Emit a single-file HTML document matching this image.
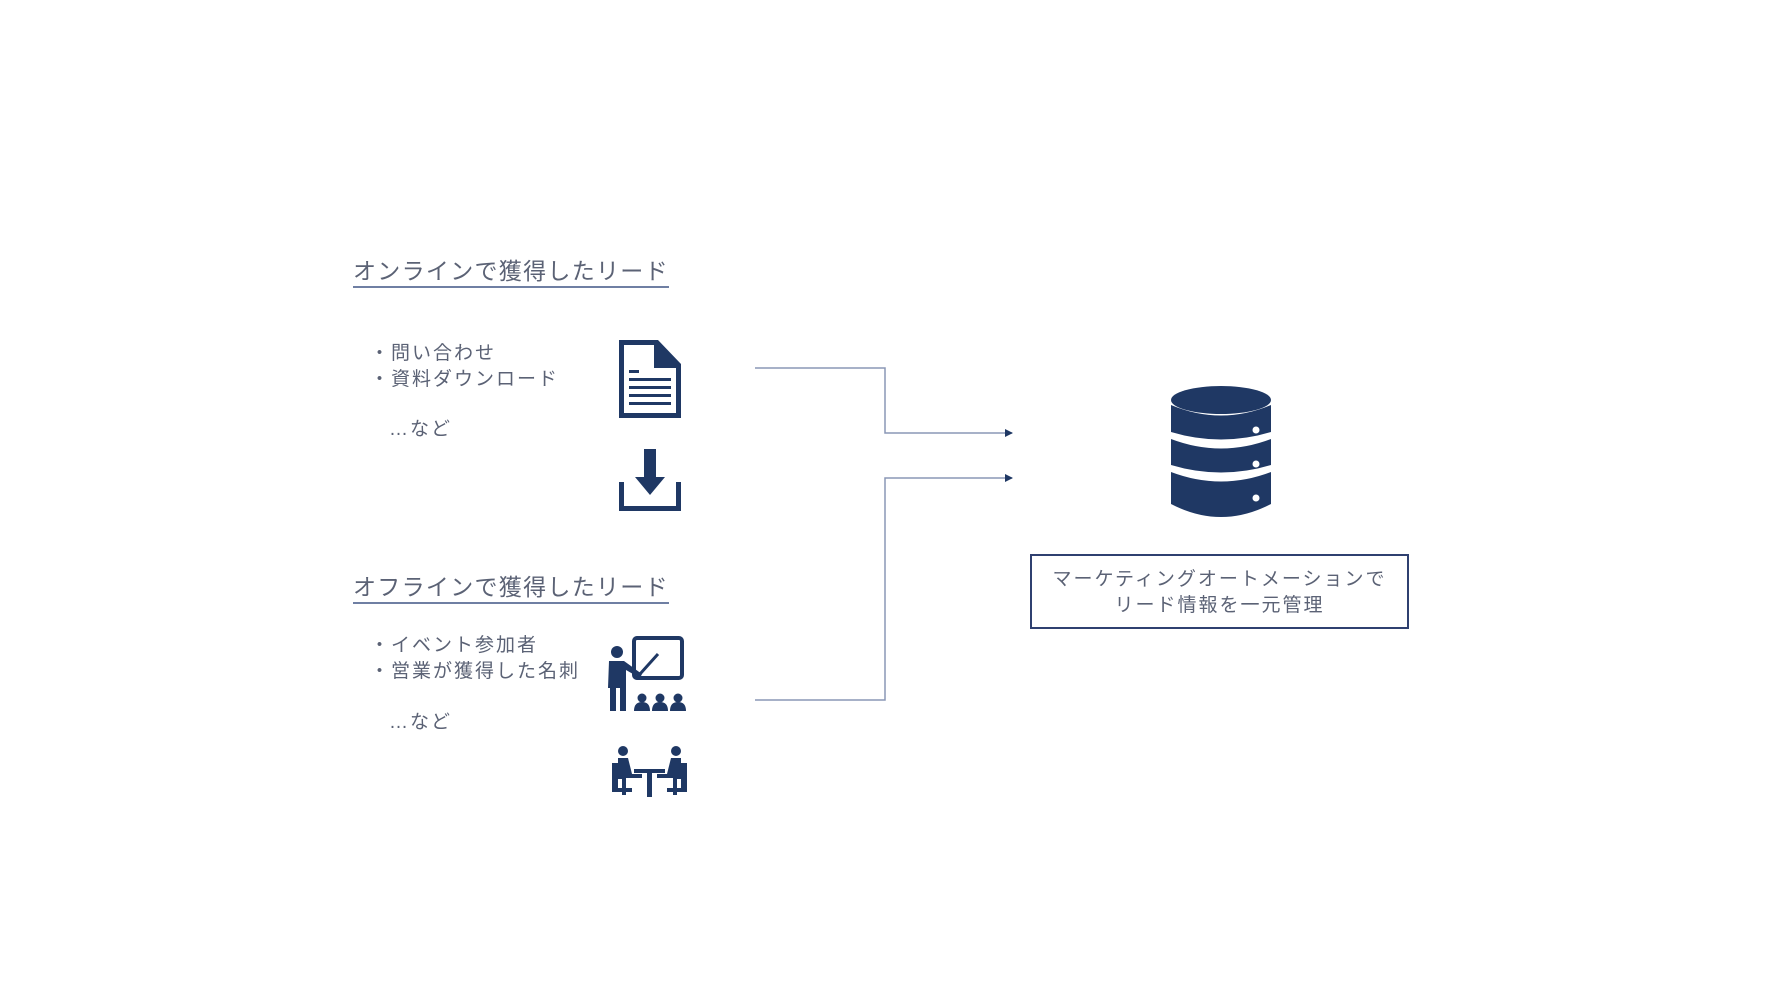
<!DOCTYPE html>
<html><head><meta charset="utf-8"><style>
body{margin:0;width:1780px;height:996px;background:#fff;position:relative;overflow:hidden;font-family:"Liberation Sans","Noto Sans CJK JP",sans-serif;color:#5b6275}
#w{position:absolute;left:-4px;top:-2px;width:1780px;height:996px}
.t{position:absolute;white-space:nowrap}
.h{font-size:23px;letter-spacing:1.3px;border-bottom:2px solid #6f7fa3;line-height:30px}
.b{font-size:19px;letter-spacing:2px;line-height:26px}
</style></head><body><div id="w">
<div class="t h" style="left:357px;top:258px">オンラインで獲得したリード</div>
<div class="t b" style="left:374px;top:343px">・問い合わせ<br>・資料ダウンロード</div>
<div class="t b" style="left:393px;top:419px">…など</div>
<div class="t h" style="left:357px;top:574px">オフラインで獲得したリード</div>
<div class="t b" style="left:374px;top:635px">・イベント参加者<br>・営業が獲得した名刺</div>
<div class="t b" style="left:393px;top:712px">…など</div>
<div class="t" style="left:1034px;top:556px;width:379px;height:75px;border:2px solid #2f4070;text-align:center;font-size:19px;letter-spacing:2px;line-height:26px;padding-top:11px;box-sizing:border-box">マーケティングオートメーションで<br>リード情報を一元管理</div>
<svg width="1780" height="996" style="position:absolute;left:0;top:0">
<defs><marker id="a" markerWidth="8" markerHeight="8" refX="7" refY="4" orient="auto" markerUnits="userSpaceOnUse"><path d="M0,0L8,4L0,8z" fill="#1f3864"/></marker></defs>
<g fill="none" stroke="#8a97b5" stroke-width="1.5">
<path d="M759 370H889V435H1016" marker-end="url(#a)"/>
<path d="M759 702H889V480H1016" marker-end="url(#a)"/>
</g>
<g fill="#1f3864">
<path d="M623 342H662L685 366V420H623Z M628 347V415H680V370H658V347Z" fill-rule="evenodd"/>
<path d="M663 350L677 364H663Z"/>
<rect x="633" y="372" width="10" height="3"/><rect x="633" y="380" width="42" height="3"/><rect x="633" y="388" width="42" height="3"/><rect x="633" y="396" width="42" height="3"/><rect x="633" y="404" width="42" height="3"/>
<rect x="648" y="451" width="12" height="30"/><path d="M639 479H669L654 497Z"/>
<path d="M623 484H628V508H680V484H685V513H623Z"/>
<rect x="638" y="640" width="48" height="40" rx="3" fill="none" stroke="#1f3864" stroke-width="4"/>
<circle cx="621" cy="654" r="6"/>
<path d="M613 663H628L646 676L644 680L630 672V713H624V690H620V713H614V690H612Z"/>
<path d="M644 676L662 656" stroke="#1f3864" stroke-width="3"/>
<circle cx="646" cy="700" r="4.5"/><circle cx="664" cy="700" r="4.5"/><circle cx="682" cy="700" r="4.5"/>
<path d="M638 713Q638 704 646 704Q654 704 654 713Z M656 713Q656 704 664 704Q672 704 672 713Z M674 713Q674 704 682 704Q690 704 690 713Z"/>
<circle cx="627" cy="753" r="5"/><circle cx="680" cy="753" r="5"/>
<path d="M616 765H622V790H616Z M622 760H632L636 776H646V780H630V797H626V781H622Z"/>
<path d="M685 765H691V790H685Z M685 760H675L671 776H661V780H677V797H681V781H685Z"/>
<rect x="638" y="771" width="31" height="4"/><rect x="651" y="775" width="5" height="24"/>
<rect x="616" y="790" width="20" height="4"/><rect x="671" y="790" width="20" height="4"/>
<ellipse cx="1225" cy="402" rx="50" ry="14"/>
<path d="M1175 407Q1225 428 1275 407V434Q1225 449 1175 434Z"/>
<path d="M1175 441Q1225 460 1275 441V467Q1225 482 1175 467Z"/>
<path d="M1175 474Q1225 493 1275 474V506Q1225 532 1175 506Z"/>
</g>
<g fill="#fff"><circle cx="1260" cy="432" r="3.5"/><circle cx="1260" cy="466" r="3.5"/><circle cx="1260" cy="500" r="3.5"/></g>
</svg>
</div></body></html>
